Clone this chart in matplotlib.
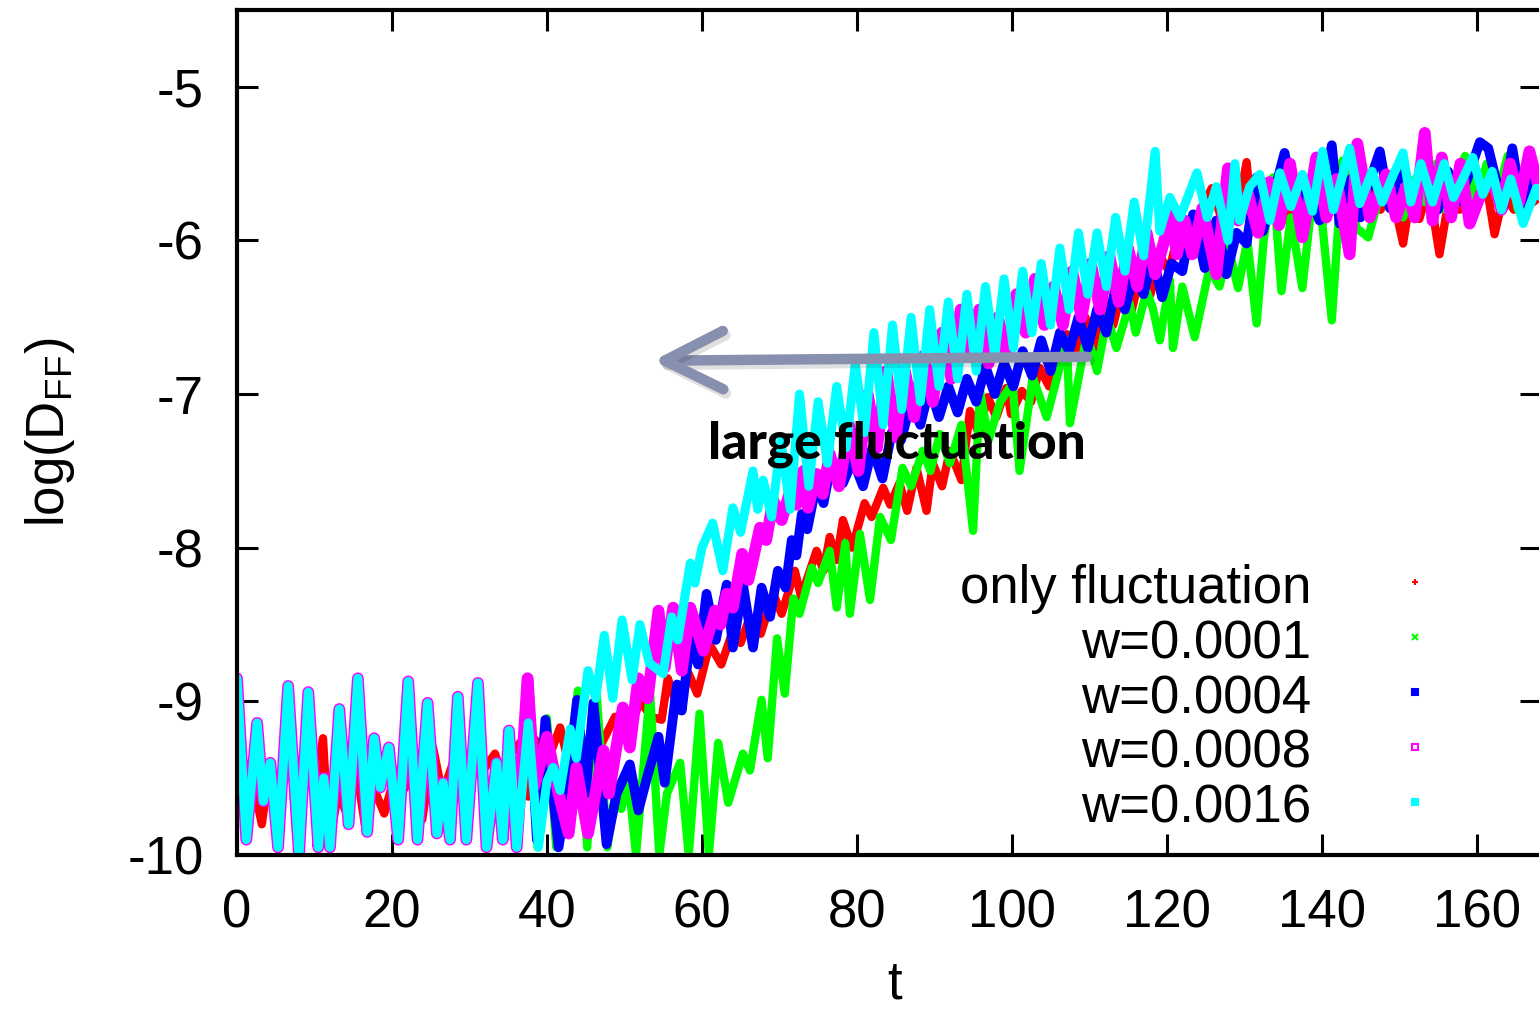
import matplotlib
matplotlib.use('Agg')
import matplotlib.pyplot as plt
import matplotlib.patheffects as pe

plt.rcParams['font.family'] = ['Liberation Sans', 'DejaVu Sans']
plt.rcParams['axes.unicode_minus'] = False

# shared start of all w runs (identical before t ~ 36)
w_early_t = [0.0, 1.2, 2.6, 3.4, 4.3, 5.3, 6.6, 8.0, 9.2, 10.5, 11.2, 12.0, 13.2, 14.4,
             15.6, 16.8, 17.7, 18.5, 19.6, 20.8, 22.1, 23.3, 24.6, 25.8, 26.6, 27.5,
             28.5, 29.6, 31.1, 32.2, 33.5, 34.3, 35.1, 36.1]
w_early_y = [-8.85, -9.9, -9.14, -9.65, -9.4, -9.95, -8.9, -10.0, -8.94, -9.95, -9.5, -9.95,
             -9.05, -9.8, -8.85, -9.85, -9.24, -9.56, -9.3, -9.9, -8.87, -9.9, -9.01, -9.86,
             -9.53, -9.9, -8.97, -9.9, -8.88, -9.95, -9.4, -9.9, -9.19, -9.95]

# only fluctuation
red_t = [0.0, 1.0, 2.0, 3.2, 4.3, 5.3, 6.8, 7.7, 9.0, 10.0, 11.1, 11.9, 13.0, 14.0, 15.2,
         16.5, 17.6, 19.0, 20.0, 21.0, 21.6, 22.8, 23.9, 25.3, 26.5, 28.1, 29.0, 30.1,
         31.5, 33.3, 34.3, 35.3, 36.5, 37.6, 38.5, 40.0, 41.7, 42.5, 44.0, 45.0, 46.0,
         46.8, 48.8, 50.2, 52.0, 53.5, 54.8, 55.6, 57.0, 58.3, 59.4, 61.0, 62.5, 64.0,
         65.0, 66.2, 67.6, 69.2, 70.3, 72.0, 72.8, 74.8, 75.7, 76.5, 77.4, 78.2, 79.4,
         81.0, 81.9, 83.4, 84.3, 85.5, 86.5, 87.7, 89.0, 89.8, 91.0, 92.0, 93.5, 94.6,
         95.7, 96.9, 98.0, 99.3, 99.9, 101.3, 102.5, 103.6, 104.8, 106.0, 107.1, 108.3,
         109.5, 110.7, 111.9, 113.1, 114.3, 115.5, 116.7, 117.9, 119.1, 120.3, 121.5,
         122.7, 124.0, 125.8, 127.0, 128.4, 129.2, 130.3, 131.0, 132.5, 134.0, 135.5,
         136.8, 138.0, 139.0, 140.1, 141.3, 142.4, 143.7, 145.0, 146.3, 147.6, 148.9,
         150.5, 151.5, 152.6, 153.8, 155.2, 156.5, 157.8, 159.0, 160.3, 161.3, 162.3,
         163.5, 164.8, 166.0, 167.3, 168.5]
red_y = [-9.3, -9.55, -9.5, -9.8, -9.4, -9.7, -9.22, -9.9, -9.24, -9.6, -9.24, -9.95, -9.6,
         -9.71, -9.37, -9.8, -9.56, -9.73, -9.55, -9.44, -9.57, -9.43, -9.77, -9.3, -9.6,
         -9.37, -9.56, -9.43, -9.47, -9.34, -9.5, -9.35, -9.27, -9.62, -9.25, -9.4, -9.17,
         -9.34, -9.19, -9.35, -9.2, -9.3, -9.1, -9.25, -9.0, -9.1, -9.12, -8.85, -9.06,
         -8.82, -8.95, -8.63, -8.76, -8.54, -8.62, -8.45, -8.56, -8.3, -8.43, -8.15, -8.32,
         -8.02, -8.15, -7.93, -8.08, -7.82, -8.0, -7.71, -7.8, -7.61, -7.72, -7.58, -7.76,
         -7.48, -7.76, -7.45, -7.6, -7.37, -7.56, -7.11, -7.25, -7.02, -7.15, -6.96, -7.13,
         -6.98, -7.05, -6.83, -6.95, -6.7, -6.61, -6.75, -6.5, -6.7, -6.4, -6.55, -6.3,
         -6.45, -6.2, -6.35, -6.1, -6.2, -5.95, -6.1, -5.85, -5.66, -5.85, -5.7, -5.8,
         -5.49, -5.83, -5.65, -5.8, -5.87, -5.65, -5.8, -5.6, -5.89, -5.7, -5.85, -5.6,
         -5.75, -5.6, -5.8, -5.65, -6.02, -5.7, -5.86, -5.65, -6.09, -5.7, -5.8, -5.6,
         -5.75, -5.65, -5.96, -5.7, -5.8, -5.6, -5.75, -5.7]

# w=0.0001 (after the shared start)
green_t = [37.6, 38.8, 40.0, 41.2, 42.5, 44.0, 45.2, 46.4, 47.8, 49.0, 49.6, 50.5, 51.5,
           53.3, 54.5, 55.5, 57.2, 58.3, 59.7, 60.9, 62.1, 63.4, 65.3, 66.2, 67.7, 68.5,
           69.7, 70.7, 71.8, 72.6, 74.2, 75.0, 76.5, 77.4, 78.5, 79.1, 80.4, 81.7, 83.0,
           84.4, 85.9, 87.0, 88.5, 89.5, 90.7, 92.0, 93.5, 95.0, 95.9, 97.0, 98.5, 100.1,
           101.0, 102.7, 104.5, 107.1, 107.5, 109.7, 111.0, 112.3, 113.5, 115.2, 116.0,
           117.4, 118.2, 119.1, 120.4, 120.8, 122.0, 123.6, 125.5, 126.8, 128.0, 129.2,
           130.4, 131.6, 132.5, 133.7, 134.8, 136.0, 137.5, 138.5, 139.8, 141.3, 142.7,
           144.5, 146.0, 147.5, 149.0, 150.5, 152.0, 153.3, 154.8, 156.0, 157.3, 158.5,
           160.0, 161.3, 162.6, 164.0, 165.3, 166.8, 168.5]
green_y = [-8.85, -9.95, -9.11, -9.95, -9.55, -8.93, -9.95, -8.94, -9.95, -9.55, -9.7, -9.5,
           -10.0, -8.93, -10.0, -9.6, -9.4, -10.0, -9.08, -10.0, -9.27, -9.66, -9.34, -9.45,
           -8.99, -9.37, -8.59, -8.95, -8.33, -8.43, -8.13, -8.23, -8.02, -8.39, -7.97,
           -8.43, -7.91, -8.34, -7.8, -7.95, -7.48, -7.6, -7.37, -7.5, -7.26, -7.45, -7.2,
           -7.89, -6.98, -7.3, -7.05, -6.93, -7.5, -6.89, -7.15, -6.65, -7.19, -6.61, -6.85,
           -6.5, -6.7, -6.41, -6.6, -6.33, -6.44, -6.65, -6.26, -6.7, -6.3, -6.63, -6.18,
           -6.3, -6.05, -6.31, -6.0, -6.54, -6.0, -5.59, -6.33, -5.85, -6.31, -5.85, -5.75,
           -6.52, -5.48, -5.92, -5.98, -5.7, -5.65, -5.85, -5.6, -5.75, -5.5, -5.8, -5.6,
           -5.45, -5.75, -5.5, -5.72, -5.45, -5.8, -5.5, -5.65]

# w=0.0004
blue_t = [37.6, 38.7, 39.8, 41.5, 42.3, 43.9, 45.0, 46.0, 47.7, 49.0, 50.7, 51.8, 52.9,
          54.4, 55.2, 56.8, 57.4, 58.5, 59.5, 60.6, 61.8, 63.2, 64.0, 65.3, 66.6, 67.7,
          68.8, 69.8, 70.8, 71.6, 72.2, 72.9, 73.6, 74.8, 75.7, 76.5, 78.2, 79.5, 80.8,
          82.0, 83.3, 84.5, 85.7, 87.0, 88.2, 89.4, 90.6, 91.8, 93.0, 94.2, 95.4, 96.6,
          97.8, 99.0, 100.2, 101.4, 102.6, 103.8, 105.0, 106.2, 107.4, 108.6, 109.8, 111.0,
          112.2, 113.4, 114.6, 115.8, 117.0, 118.2, 119.4, 120.6, 122.0, 123.4, 124.9,
          126.4, 127.7, 129.0, 130.3, 131.6, 132.4, 133.8, 135.2, 136.8, 138.2, 139.7,
          141.3, 142.3, 143.8, 145.0, 146.3, 147.5, 148.8, 150.2, 151.5, 152.7, 153.9,
          155.0, 156.3, 157.5, 158.8, 160.4, 161.5, 163.4, 164.6, 166.0, 167.2, 168.5]
blue_y = [-8.85, -9.9, -9.12, -9.95, -9.7, -8.99, -9.6, -9.01, -9.93, -9.6, -9.41, -9.71,
          -9.5, -9.23, -9.53, -8.89, -9.06, -8.6, -8.76, -8.3, -8.6, -8.24, -8.65, -8.24,
          -8.65, -8.26, -8.45, -8.15, -8.26, -7.95, -8.05, -7.78, -7.88, -7.58, -7.71, -7.5,
          -7.58, -7.43, -7.6, -7.35, -7.55, -7.25, -7.3, -7.05, -7.2, -6.95, -7.15, -6.95,
          -7.12, -6.9, -7.05, -6.82, -7.0, -6.8, -6.95, -6.72, -6.88, -6.65, -6.85, -6.6,
          -6.72, -6.5, -6.7, -6.45, -6.6, -6.3, -6.45, -6.2, -6.35, -6.1, -6.37, -6.15,
          -6.2, -5.83, -6.18, -5.87, -6.22, -5.95, -6.02, -5.59, -5.94, -5.7, -5.43, -5.81,
          -5.66, -5.87, -5.38, -5.89, -5.6, -5.85, -5.6, -5.42, -5.79, -5.5, -5.75, -5.55,
          -5.53, -5.8, -5.55, -5.75, -5.6, -5.36, -5.4, -5.79, -5.4, -5.83, -5.57, -5.7]

# w=0.0008
magenta_t = [37.5, 38.4, 40.0, 41.5, 42.8, 43.8, 45.3, 47.3, 48.0, 49.8, 50.7, 51.8, 53.0,
             54.4, 55.2, 56.3, 57.4, 58.5, 60.2, 61.7, 62.4, 63.2, 64.0, 65.2, 66.0, 67.5,
             68.3, 69.2, 70.3, 71.4, 72.2, 73.1, 73.7, 74.8, 75.6, 76.5, 77.7, 79.0, 80.2,
             81.4, 82.6, 83.8, 85.0, 86.2, 87.4, 88.6, 89.8, 91.0, 92.2, 93.4, 94.6, 95.8,
             97.0, 98.2, 99.4, 100.6, 101.8, 103.0, 104.2, 105.4, 106.6, 107.8, 109.0,
             110.2, 111.4, 112.6, 113.8, 115.0, 116.2, 117.4, 118.5, 120.6, 121.3, 122.3,
             123.3, 124.6, 126.4, 127.9, 129.2, 130.5, 131.8, 133.2, 134.5, 135.9, 137.5,
             139.3, 140.6, 141.9, 143.6, 144.6, 146.2, 148.3, 149.6, 150.9, 152.0, 153.3,
             154.3, 155.5, 156.7, 157.9, 159.1, 160.5, 162.0, 163.2, 164.3, 165.5, 166.8,
             168.5]
magenta_y = [-8.85, -9.55, -9.23, -9.6, -9.86, -9.43, -9.86, -9.32, -9.6, -9.04, -9.3, -8.85,
             -8.98, -8.41, -8.78, -8.39, -8.8, -8.39, -8.67, -8.41, -8.5, -8.3, -8.39, -8.04,
             -8.21, -7.87, -7.95, -7.69, -7.82, -7.63, -7.72, -7.5, -7.74, -7.52, -7.65, -7.39,
             -7.6, -7.2, -7.5, -7.0, -7.35, -6.85, -7.28, -6.85, -7.15, -6.75, -7.05, -6.6,
             -6.9, -6.45, -6.75, -6.45, -6.8, -6.5, -6.75, -6.35, -6.6, -6.25, -6.55, -6.3,
             -6.55, -6.2, -6.5, -6.15, -6.45, -6.1, -6.4, -6.05, -6.3, -5.95, -6.22, -5.83,
             -6.09, -5.87, -6.09, -5.79, -6.22, -5.53, -5.87, -5.7, -5.95, -5.62, -5.9, -5.5,
             -5.98, -5.46, -5.85, -5.6, -6.09, -5.37, -5.85, -5.57, -5.85, -5.65, -5.85, -5.3,
             -5.87, -5.46, -5.85, -5.5, -5.89, -5.7, -5.59, -5.8, -5.5, -5.75, -5.42, -5.75]

# w=0.0016
cyan_t = [37.6, 38.9, 40.0, 40.8, 41.7, 43.0, 43.8, 45.3, 46.3, 47.4, 48.5, 49.7, 51.0,
          52.0, 53.2, 55.0, 56.1, 56.9, 58.5, 59.1, 60.0, 61.4, 62.7, 64.0, 65.0, 66.6,
          67.2, 67.9, 69.0, 70.2, 71.4, 72.6, 73.8, 75.0, 76.2, 77.4, 78.6, 79.8, 81.0,
          82.2, 83.4, 84.6, 85.8, 87.0, 88.2, 89.4, 90.6, 91.8, 93.0, 94.2, 95.4, 96.6,
          97.8, 99.0, 100.2, 101.4, 102.6, 103.8, 105.0, 106.2, 107.4, 108.6, 109.8, 111.0,
          112.2, 113.4, 114.6, 115.8, 117.0, 118.5, 119.1, 120.4, 121.7, 123.9, 125.2,
          126.4, 127.9, 128.8, 129.4, 130.7, 132.0, 133.3, 134.6, 136.0, 137.5, 138.8,
          140.1, 141.5, 143.6, 144.9, 146.5, 147.8, 149.0, 150.5, 151.5, 152.8, 154.3,
          155.8, 157.0, 158.2, 159.5, 160.8, 162.0, 163.2, 164.4, 166.0, 167.7, 168.5]
cyan_y = [-9.14, -9.95, -9.52, -9.43, -9.58, -9.18, -9.37, -8.8, -8.98, -8.57, -8.98, -8.47,
          -8.86, -8.5, -8.75, -8.82, -8.45, -8.6, -8.1, -8.23, -8.0, -7.84, -8.15, -7.74,
          -7.9, -7.5, -7.75, -7.56, -7.8, -7.3, -7.75, -7.0, -7.6, -7.05, -7.45, -6.95,
          -7.35, -6.8, -7.25, -6.6, -7.2, -6.55, -7.1, -6.5, -7.05, -6.45, -6.95, -6.4,
          -6.9, -6.35, -6.85, -6.3, -6.75, -6.25, -6.7, -6.2, -6.6, -6.15, -6.55, -6.05,
          -6.45, -5.95, -6.35, -5.95, -6.3, -5.85, -6.2, -5.75, -6.1, -5.42, -5.94, -5.72,
          -5.85, -5.56, -5.85, -5.65, -6.0, -5.5, -5.87, -5.65, -5.57, -5.87, -5.56, -5.78,
          -5.57, -5.81, -5.42, -5.8, -5.4, -5.76, -5.55, -5.75, -5.6, -5.43, -5.75, -5.5,
          -5.75, -5.5, -5.72, -5.6, -5.46, -5.7, -5.55, -5.8, -5.6, -5.89, -5.66, -5.75]

labels = ['only fluctuation', 'w=0.0001', 'w=0.0004', 'w=0.0008', 'w=0.0016']
colors = ['#ff0000', '#00ff00', '#0000ff', '#ff00ff', '#00ffff']
markers = ['+', 'x', 's', 's', 's']
xticks = [0, 20, 40, 60, 80, 100, 120, 140, 160]
yticks = [-10, -9, -8, -7, -6, -5]

series = [
    (red_t, red_y),
    (w_early_t + green_t, w_early_y + green_y),
    (w_early_t + blue_t, w_early_y + blue_y),
    (w_early_t + magenta_t, w_early_y + magenta_y),
    (w_early_t + cyan_t, w_early_y + cyan_y),
]
widths = [6.0, 6.0, 7.0, 8.5, 6.5]

fig = plt.figure(figsize=(15.39, 10.11), dpi=100)
ax = fig.add_axes([237 / 1539, 156 / 1011, 1304 / 1539, 845 / 1011])

for (t, y), c, lw in zip(series, colors, widths):
    ax.plot(t, y, color=c, lw=lw, solid_joinstyle='round', solid_capstyle='round')

ax.set_xlim(0, 168.3)
ax.set_ylim(-10, -4.5)
ax.set_xticks(xticks)
ax.set_yticks(yticks)
ax.tick_params(direction='in', length=15, width=2.2, top=True, right=True,
               labelsize=38, pad=24)
for s in ax.spines.values():
    s.set_linewidth(3)

ax.set_xlabel('t', fontsize=38)
ax.xaxis.set_label_coords(0.504, -0.124)
ax.set_ylabel(r'log(D$_\mathregular{FF}$)', fontsize=38)
ax.yaxis.set_label_coords(-0.123, 0.5)

# hand-made legend: right-aligned labels, small marker samples
rows = [0.298, 0.233, 0.168, 0.103, 0.038]
for lab, c, m, yy in zip(labels, colors, markers, rows):
    ax.text(0.824, yy, lab, transform=ax.transAxes, ha='right', va='baseline', fontsize=38)
    face = 'none' if lab == 'w=0.0008' else c
    ax.plot([0.903], [yy + 0.025], transform=ax.transAxes, marker=m, ms=5,
            color=c, mfc=face, mew=1.5, ls='none')

# annotation arrow
ax.annotate('', xy=(53.7, -6.783), xytext=(109.7, -6.757),
            arrowprops=dict(arrowstyle='->,head_length=1.0,head_width=0.5',
                            mutation_scale=42, lw=7.5, color='#8791af',
                            capstyle='round', joinstyle='round', shrinkA=0, shrinkB=0,
                            path_effects=[pe.SimpleLineShadow(offset=(2, -3), alpha=0.12),
                                          pe.Normal()]),
            zorder=10)
ax.text(60.8, -7.42, 'large fluctuation', fontsize=37, fontweight='black',
        family=['Lato', 'DejaVu Sans'], ha='left', va='baseline', zorder=11)

fig.savefig('out.png', dpi=100)
